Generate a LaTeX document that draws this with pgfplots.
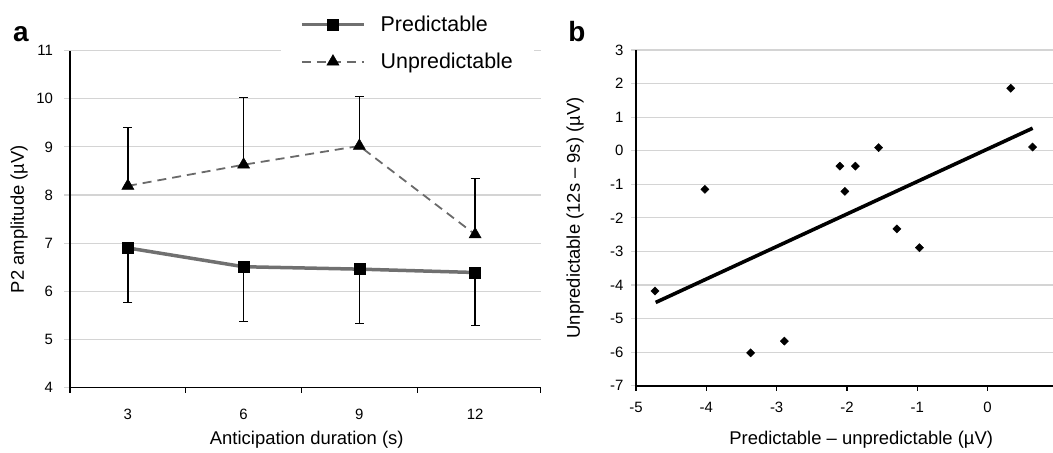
\documentclass[border=0pt]{standalone}
\usepackage{pgfplots}
\pgfplotsset{compat=1.18}
\usepackage{fontspec}
\setmainfont{Liberation Sans}
\definecolor{gridgray}{HTML}{D4D4D4}
\definecolor{lineA}{HTML}{707070}
\definecolor{lineB}{HTML}{6A6A6A}
\newcommand{\tickfont}{\fontsize{15}{17}\selectfont}
\begin{document}
\begin{tikzpicture}
\useasboundingbox (0,0) rectangle (1053bp,453bp);
\pgfplotsset{
  common/.style={
    scale only axis,
    axis lines*=left,
    axis line style={black, line width=1.6bp},
    /pgf/number format/assume math mode=true,
    xticklabel={\tickfont\pgfmathprintnumber{\tick}},
    yticklabel={\tickfont\pgfmathprintnumber{\tick}},
    label style={font=\fontsize{18.5}{22}\selectfont},
    ymajorgrids,
    grid style={gridgray, line width=1.1bp},
    tick align=outside,
    x tick style={black, line width=1.3bp},
    y tick style={gridgray, line width=1.1bp},
    clip=false,
  }
}
% ---------------- Panel a ----------------
\begin{axis}[common,
  at={(70bp,65.5bp)}, anchor=south west,
  width=470.7bp, height=336.8bp,
  xmin=1.5, xmax=13.7, ymin=4, ymax=11,
  xtick={1.5,4.5,7.5,10.5,13.7},
  xticklabels={},
  extra x ticks={3,6,9,12},
  extra x tick labels={{\tickfont 3},{\tickfont 6},{\tickfont 9},{\tickfont 12}},
  extra x tick style={major tick length=0pt, grid=none},
  ytick={4,5,...,11},
  major tick length=5.5bp,
  xticklabel style={anchor=center, yshift=-26.5bp},
  yticklabel style={anchor=east, xshift=-8bp},
  xlabel={Anticipation duration (s)},
  ylabel={P2 amplitude (\textmu V)},
  xlabel style={at={(axis description cs:0.503,-0.156)}, anchor=center},
  ylabel style={at={(axis description cs:-0.108,0.5)}, anchor=center},
  legend style={at={(axis description cs:0.4483,1.118)}, anchor=north west,
    draw=none, fill=white, font=\fontsize{21.5}{25}\selectfont,
    row sep=16bp, column sep=13bp, inner xsep=19bp, inner ysep=3bp, cells={anchor=west}},
  legend image code/.code={\draw[mark repeat=2,mark phase=2,#1] plot coordinates {(0bp,0bp)(31bp,0bp)(62bp,0bp)};},
]
\addplot[lineA, line width=3.5bp, mark=square*, mark size=5.5bp,
  mark options={solid, fill=black, draw=black, line width=0.5bp},
  error bars/.cd, y dir=minus, y explicit,
  error bar style={black, line width=1.6bp, solid},
  error mark options={rotate=90, black, mark size=4.5bp, line width=1.6bp}]
  coordinates {
  (3,6.90) +- (0,1.13)
  (6,6.51) +- (0,1.135)
  (9,6.46) +- (0,1.13)
  (12,6.39) +- (0,1.10)
};
\addlegendentry{Predictable}
\addplot[lineB, line width=1.8bp, dash pattern=on 9bp off 6bp, mark=triangle*, mark size=7bp,
  mark options={solid, fill=black, draw=black, line width=0.5bp},
  error bars/.cd, y dir=plus, y explicit,
  error bar style={black, line width=1.6bp, solid},
  error mark options={rotate=90, black, mark size=4.5bp, line width=1.6bp}]
  coordinates {
  (3,8.19) +- (0,1.21)
  (6,8.63) +- (0,1.40)
  (9,9.02) +- (0,1.03)
  (12,7.18) +- (0,1.16)
};
\addlegendentry{Unpredictable}
\end{axis}
% ---------------- Panel b ----------------
\begin{axis}[common,
  at={(636bp,67.3bp)}, anchor=south west,
  width=417bp, height=335.7bp,
  xmin=-5, xmax=0.93, ymin=-7, ymax=3,
  xtick={-5,-4,...,0},
  ytick={-7,-6,...,3},
  major tick length=5bp,
  xticklabel style={anchor=center, yshift=-17bp},
  yticklabel style={anchor=east, xshift=-4bp},
  xlabel={Predictable -- unpredictable (\textmu V)},
  ylabel={Unpredictable (12s -- 9s) (\textmu V)},
  xlabel style={at={(axis description cs:0.54,-0.162)}, anchor=center},
  ylabel style={at={(axis description cs:-0.146,0.5)}, anchor=center},
]
\addplot[black, line width=3.6bp] coordinates {(-4.72,-4.52) (0.64,0.67)};
\addplot[only marks, mark=square*, mark size=2.9bp, mark options={rotate=45, fill=black, draw=black}]
  coordinates {
  (-4.02,-1.15)
  (-2.10,-0.46)
  (-1.88,-0.46)
  (-2.03,-1.21)
  (-1.55,0.09)
  (0.33,1.86)
  (0.64,0.11)
  (-1.29,-2.33)
  (-0.97,-2.89)
  (-4.73,-4.18)
  (-3.37,-6.02)
  (-2.89,-5.67)
};
\end{axis}
\node[font=\fontsize{28}{30}\selectfont\bfseries] at (21bp,419bp) {a};
\node[font=\fontsize{28}{30}\selectfont\bfseries] at (577bp,421bp) {b};
\end{tikzpicture}
\end{document}
